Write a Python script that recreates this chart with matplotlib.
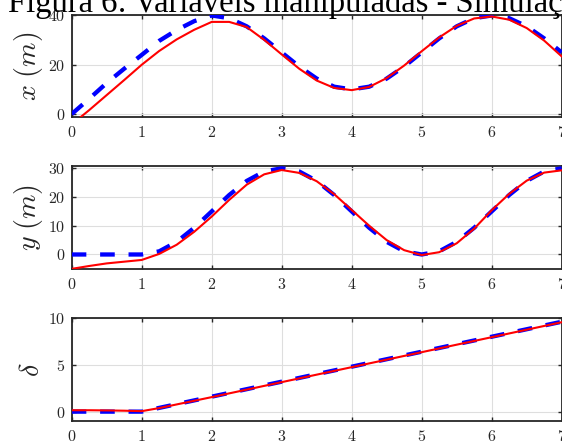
import numpy as np
import matplotlib
matplotlib.use("Agg")
import matplotlib.pyplot as plt
from matplotlib.ticker import FuncFormatter

plt.rcParams['mathtext.fontset'] = 'cm'

t = [0, 0.25, 0.5, 0.75, 1.0, 1.25, 1.5, 1.75, 2.0, 2.25, 2.5, 2.75, 3.0, 3.25, 3.5,
     3.75, 4.0, 4.25, 4.5, 4.75, 5.0, 5.25, 5.5, 5.75, 6.0, 6.25, 6.5, 6.75, 7.0]

x_ref = [0, 6.2, 12.6, 18.4, 24, 29.7, 34.1, 37.7, 40, 38.9, 35.6, 30.7, 25, 19.3, 14.4,
         11.1, 10, 11.1, 14.4, 19.3, 25, 30.7, 35.6, 38.9, 40, 38.9, 35.6, 30.7, 25]
x_sim = [-4.2, 1.6, 7.7, 13.8, 20, 25.6, 30.3, 34.2, 37.4, 37.4, 35.3, 30.1, 24.2, 18.4, 13.6,
         10.6, 9.7, 11.0, 14.6, 19.7, 25.5, 31.1, 35.8, 38.8, 39.6, 38.3, 34.9, 29.8, 23.4]

y_ref = [0, 0, 0, 0, 0, 1.1, 4.4, 9.3, 15, 20.7, 25.6, 28.9, 30, 28.9, 25.6,
         20.7, 15, 9.3, 4.4, 1.1, 0, 1.1, 4.4, 9.3, 15, 20.7, 25.6, 28.9, 30]
y_sim = [-5.0, -4.0, -3.1, -2.5, -1.9, 0.2, 3.4, 7.9, 13.2, 19.0, 24.3, 27.9, 29.4, 28.4, 25.5,
         21.0, 15.5, 10.0, 5.0, 1.5, -0.2, 0.8, 3.9, 9.0, 15.4, 21.1, 25.7, 28.5, 29.3]

d_ref = [0, 0, 0, 0, 0, 0.4, 0.8, 1.2, 1.6, 2.0, 2.4, 2.8, 3.2, 3.6, 4.0,
         4.4, 4.8, 5.2, 5.6, 6.0, 6.4, 6.8, 7.2, 7.6, 8.0, 8.4, 8.8, 9.2, 9.6]
d_sim = [0.15, 0.15, 0.13, 0.1, 0.05, 0.38, 0.77, 1.16, 1.55, 1.95, 2.35, 2.75, 3.15, 3.55, 3.95,
         4.35, 4.75, 5.15, 5.55, 5.95, 6.35, 6.75, 7.15, 7.55, 7.95, 8.35, 8.75, 9.15, 9.55]

x_ticks = [0, 1, 2, 3, 4, 5, 6, 7]
panels = [
    dict(ref=x_ref, sim=x_sim, ylabel=r'$x\ (m)$', yticks=[0, 20, 40], ylim=(-1.2, 40.2)),
    dict(ref=y_ref, sim=y_sim, ylabel=r'$y\ (m)$', yticks=[0, 10, 20, 30], ylim=(-5.05, 30.8)),
    dict(ref=d_ref, sim=d_sim, ylabel=r'$\delta$', yticks=[0, 5, 10], ylim=(-1.0, 10.0)),
]
title = 'Figura 6: Variáveis manipuladas - Simulação'

W, H = 562, 446
fig = plt.figure(figsize=(W / 100, H / 100), dpi=100)

boxes = [(15, 117), (166, 269), (318, 421)]
left_px, right_px = 71.7, 561.7

mfmt = FuncFormatter(lambda v, p: r'$%g$' % v)

for (top, bot), p in zip(boxes, panels):
    ax = fig.add_axes([left_px / W, 1 - bot / H, (right_px - left_px) / W, (bot - top) / H])
    ax.plot(t, p['ref'], color=(0, 0, 1), lw=3.1, linestyle=(0, (3.4, 3.2)),
            solid_capstyle='butt', dash_capstyle='butt', zorder=3)
    ax.plot(t, p['sim'], color=(1, 0, 0), lw=1.5, zorder=4)
    ax.set_xlim(0, 7)
    ax.set_ylim(*p['ylim'])
    ax.set_xticks(x_ticks)
    ax.set_yticks(p['yticks'])
    ax.xaxis.set_major_formatter(mfmt)
    ax.yaxis.set_major_formatter(mfmt)
    ax.grid(True, color='#dedede', lw=0.8, zorder=0)
    ax.set_axisbelow(True)
    for s in ax.spines.values():
        s.set_color('#262626')
        s.set_linewidth(1.3)
    ax.tick_params(direction='in', length=2.8, width=1.0, colors='#262626',
                   top=True, right=True, labelsize=11.5)
    ax.tick_params(axis='x', pad=5.5)
    ax.tick_params(axis='y', pad=4.5)
    ax.set_ylabel(p['ylabel'], fontsize=20, color='#262626')
    ax.yaxis.set_label_coords((45 - left_px) / (right_px - left_px), 0.5)
    for lab in ax.get_xticklabels() + ax.get_yticklabels():
        lab.set_color('#262626')

fig.text(8 / W, 1 - 12 / H, title, family='Liberation Serif', fontsize=23.5,
         ha='left', va='baseline', color='black')

fig.savefig('out.png', dpi=100)
